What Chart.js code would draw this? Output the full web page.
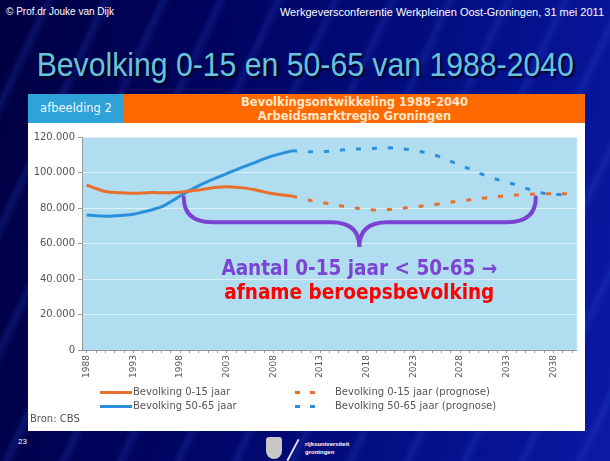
<!DOCTYPE html>
<html>
<head>
<meta charset="utf-8">
<script src="https://cdn.jsdelivr.net/npm/chart.js@4.4.0/dist/chart.umd.min.js"></script>
<style>
  html, body { margin: 0; padding: 0; }
  body {
    width: 610px; height: 461px; overflow: hidden; position: relative;
    background:
      repeating-linear-gradient(115deg, rgba(40,70,200,0) 0px, rgba(40,70,200,0) 38px, rgba(50,80,210,0.22) 44px, rgba(40,70,200,0) 52px),
      linear-gradient(100deg, #000042 0%, #000462 35%, #030f86 70%, #0a1aa4 100%);
    font-family: "Liberation Sans", Arial, sans-serif;
  }
  .top-left { position: absolute; left: 6px; top: 6px; color: #fff; font-size: 10px; }
  .top-right { position: absolute; right: 6px; top: 6px; color: #fff; font-size: 11px; }
  .title {
    position: absolute; left: 0; width: 610px; top: 46px; text-align: center;
    color: #68c2dc; font-family: "Liberation Sans", sans-serif;
    font-size: 33px; text-shadow: 2px 2px 2px #000020;
    transform: scaleX(0.915); transform-origin: 308px 0;
  }
  .panel { position: absolute; left: 28px; top: 94px; width: 557px; height: 337px; background: #fff; }
  .tag {
    position: absolute; left: 0; top: 0; width: 96px; height: 29px; background: #2fa2d8;
    color: #eef8ff; font-family: "DejaVu Sans", Verdana, sans-serif; font-size: 11.5px;
    line-height: 29px; text-align: center;
  }
  .banner {
    position: absolute; left: 96px; top: 0; width: 461px; height: 29px; background: #ff6a00;
    color: #ffe6cc; font-family: "DejaVu Sans", Verdana, sans-serif; font-weight: bold;
    font-size: 11.5px; line-height: 14px; text-align: center; padding-top: 1px; box-sizing: border-box;
  }
  #chart { position: absolute; left: 28px; top: 123px; }
  .slide-no { position: absolute; left: 18px; top: 437px; color: #fff; font-size: 8px; }
  .crest { position: absolute; left: 266px; top: 437px; width: 16px; height: 22px; background: #c8c8c8; border-radius: 3px 3px 8px 8px; }
  .slash { position: absolute; left: 292px; top: 438px; width: 2px; height: 24px; background: #e0e0e0; transform: rotate(28deg); }
  .uni { position: absolute; left: 305px; top: 440px; color: #fff; font-size: 6px; font-weight: bold; line-height: 8px; }
</style>
</head>
<body>
<div class="top-left">© Prof.dr Jouke van Dijk</div>
<div class="top-right">Werkgeversconferentie Werkpleinen Oost-Groningen, 31 mei 2011</div>
<div class="title">Bevolking 0-15 en 50-65 van 1988-2040</div>
<div class="panel">
  <div class="tag">afbeelding 2</div>
  <div class="banner">Bevolkingsontwikkeling 1988-2040<br>Arbeidsmarktregio Groningen</div>
</div>
<canvas id="chart" width="557" height="307"></canvas>
<div class="slide-no">23</div>
<div class="crest"></div>
<div class="slash"></div>
<div class="uni">rijksuniversiteit<br>groningen</div>

<script>
// years 1988 - 2040
const years = []
for (let y = 1988; y <= 2040; y++) years.push(String(y))

// observed 1988-2010
const jong = [92900, 91000, 89300, 88700, 88500, 88300, 88400, 88700, 88600, 88600, 88900, 89500,
  90200, 91000, 91700, 92000, 91700, 91200, 90300, 89100, 88000, 87300, 86700]
const oud = [76000, 75600, 75400, 75600, 75900, 76500, 77700, 79000, 80600, 83500, 86800, 89800,
  92600, 95000, 97200, 99400, 101500, 103600, 105600, 107700, 109500, 110900, 112200]

// prognose 2010-2040
const jongPrognose = [86700, 85400, 84200, 83200, 82400, 81400, 80500, 79800, 79200, 78900, 79000,
  79400, 80000, 80600, 81100, 81700, 82500, 83300, 84000, 84600, 85200, 85900, 86400, 86900, 87300,
  87600, 87900, 88000, 88000, 88000, 87900]
const oudPrognose = [112200, 111900, 111700, 111600, 112000, 112500, 113000, 113200, 113400, 113600,
  113900, 113800, 113300, 112500, 111500, 110200, 108500, 106300, 104200, 102000, 99700, 97800,
  96000, 94500, 93100, 91200, 89300, 88200, 87800, 87400, 87200]

const yTicks = [0, 20000, 40000, 60000, 80000, 100000, 120000]

// brace annotation: [year index, value]
const braceLeft = [10.4, 86000]
const braceTip = [29.2, 58000]
const braceRight = [48.1, 86000]
const braceMid = 72000
const noteLines = ["Aantal 0-15 jaar < 50-65 \u2192", "afname beroepsbevolking"]
const noteValues = [45400, 32000]

const ORANGE = "#e8702c"
const BLUE = "#2b90dc"

const observedLen = jong.length
const pad = (arr, before, total) => {
  const out = new Array(before).fill(null).concat(arr)
  while (out.length < total) out.push(null)
  return out
}
const n = years.length

const fmt = v => v === 0 ? "0" : v.toLocaleString("de-DE")

const backdrop = {
  id: "backdrop",
  beforeDraw(chart) {
    const { ctx, chartArea: a } = chart
    ctx.save()
    ctx.fillStyle = "#b1ddf0"
    ctx.fillRect(a.left, a.top, a.right - a.left, a.bottom - a.top)
    ctx.restore()
  }
}

const note = {
  id: "note",
  afterDatasetsDraw(chart) {
    const { ctx, scales: { x, y } } = chart
    const lx = x.getPixelForValue(braceLeft[0]), ly = y.getPixelForValue(braceLeft[1])
    const rx = x.getPixelForValue(braceRight[0]), ry = y.getPixelForValue(braceRight[1])
    const mx = x.getPixelForValue(braceTip[0]), ty = y.getPixelForValue(braceTip[1])
    const my = y.getPixelForValue(braceMid)
    const r = 28
    ctx.save()
    ctx.strokeStyle = "#7a44d2"
    ctx.lineWidth = 4
    ctx.lineCap = "round"
    ctx.beginPath()
    ctx.moveTo(lx, ly)
    ctx.quadraticCurveTo(lx, my, lx + r, my)
    ctx.lineTo(mx - r, my)
    ctx.quadraticCurveTo(mx, my, mx, ty)
    ctx.quadraticCurveTo(mx, my, mx + r, my)
    ctx.lineTo(rx - r, my)
    ctx.quadraticCurveTo(rx, my, rx, ry)
    ctx.stroke()

    ctx.textAlign = "center"
    ctx.textBaseline = "middle"
    ctx.font = "bold 20.5px 'DejaVu Sans Condensed', 'DejaVu Sans', sans-serif"
    ctx.fillStyle = "#7b44d4"
    ctx.fillText(noteLines[0], mx, y.getPixelForValue(noteValues[0]))
    ctx.fillStyle = "#ff0000"
    ctx.fillText(noteLines[1], mx, y.getPixelForValue(noteValues[1]))
    ctx.restore()
  }
}

const legendRows = {
  id: "legendRows",
  afterDraw(chart) {
    const { ctx } = chart
    const ds = chart.data.datasets
    const rows = [269.5, 283.5]
    ctx.save()
    ctx.font = "10px 'DejaVu Sans', Verdana, sans-serif"
    ctx.fillStyle = "#555"
    ctx.textBaseline = "middle"
    ds.forEach((d, i) => {
      const yy = rows[i % 2]
      ctx.strokeStyle = d.borderColor
      ctx.lineWidth = 3
      ctx.beginPath()
      if (i < 2) {
        ctx.moveTo(72, yy); ctx.lineTo(104, yy)
        ctx.stroke()
        ctx.fillText(d.label, 105, yy)
      } else {
        ctx.moveTo(267, yy); ctx.lineTo(272, yy)
        ctx.moveTo(282, yy); ctx.lineTo(287, yy)
        ctx.stroke()
        ctx.fillText(d.label, 307, yy)
      }
    })
    ctx.fillText("Bron: CBS", 2, 296)
    ctx.restore()
  }
}

new Chart(document.getElementById("chart"), {
  type: "line",
  data: {
    labels: years,
    datasets: [
      { label: "Bevolking 0-15 jaar", data: pad(jong, 0, n), borderColor: ORANGE, borderWidth: 3, pointRadius: 0, tension: 0.3 },
      { label: "Bevolking 50-65 jaar", data: pad(oud, 0, n), borderColor: BLUE, borderWidth: 3, pointRadius: 0, tension: 0.3 },
      { label: "Bevolking 0-15 jaar (prognose)", data: pad(jongPrognose, observedLen - 1, n), borderColor: ORANGE, borderWidth: 3, borderDash: [5, 11], pointRadius: 0, tension: 0.3 },
      { label: "Bevolking 50-65 jaar (prognose)", data: pad(oudPrognose, observedLen - 1, n), borderColor: BLUE, borderWidth: 3, borderDash: [5, 11], pointRadius: 0, tension: 0.3 }
    ]
  },
  options: {
    responsive: false,
    animation: false,
    layout: { padding: { top: 14, right: 0, bottom: 45, left: 0 } },
    plugins: { legend: { display: false }, tooltip: { enabled: false } },
    scales: {
      x: {
        offset: true,
        grid: { drawOnChartArea: false, offset: false, tickLength: 3, color: "#999" },
        border: { color: "#999" },
        ticks: {
          autoSkip: false, minRotation: 90, maxRotation: 90, padding: 2,
          color: "#555", font: { family: "DejaVu Sans", size: 9 },
          callback: (v, i) => (i % 5 === 0 ? years[i] : "")
        },
        afterFit: s => { s.height = 35 }
      },
      y: {
        min: 0, max: 120000,
        afterBuildTicks: s => { s.ticks = yTicks.map(v => ({ value: v })) },
        grid: { color: "rgba(255,255,255,0.55)", tickLength: 4, tickColor: "#999" },
        border: { color: "#999" },
        ticks: { color: "#555", padding: 3, font: { family: "DejaVu Sans", size: 10 }, callback: v => fmt(v) },
        afterFit: s => { s.width = 54 }
      }
    }
  },
  plugins: [backdrop, note, legendRows]
})
</script>
</body>
</html>
